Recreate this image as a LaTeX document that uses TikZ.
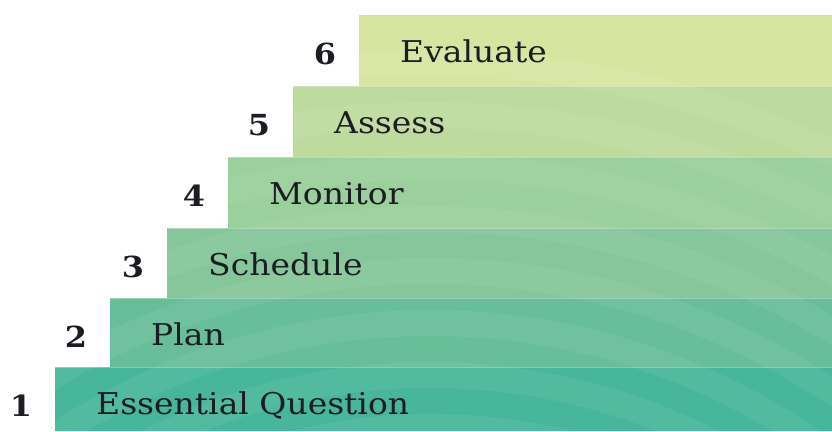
\documentclass[tikz,border=0pt]{standalone}
\usepackage{fontspec}
\setmainfont{DejaVu Serif}
\newfontfamily\lblfont[FakeStretch=1.1]{DejaVu Serif}
\newfontfamily\numfont[FakeStretch=1.1]{DejaVu Serif}
\definecolor{b6}{HTML}{D7E5A0}
\definecolor{b5}{HTML}{BEDB9F}
\definecolor{b4}{HTML}{9BCF9B}
\definecolor{b3}{HTML}{86C69A}
\definecolor{b2}{HTML}{68BE98}
\definecolor{b1}{HTML}{47B69A}
\definecolor{txt}{HTML}{1C1C24}
\begin{document}
\begin{tikzpicture}[x=1pt,y=-1pt,
  lbl/.style={anchor=base west, font=\lblfont\fontsize{30}{32}\selectfont, text=txt, inner sep=0pt},
  num/.style={anchor=base, font=\numfont\bfseries\fontsize{29}{32}\selectfont, text=txt, inner sep=0pt}]
\useasboundingbox (0,0) rectangle (832,431);
\foreach \l/\t/\b/\c in {359/15/86/b6, 293/86/157/b5, 228/157/228/b4, 167/228/298/b3, 110/298/367/b2, 55/367/431/b1}
  \fill[\c] (\l,\t) rectangle (832,\b);
\begin{scope}
  \clip (359,15) -- (832,15) -- (832,431) -- (55,431) -- (55,367) -- (110,367) -- (110,298)
    -- (167,298) -- (167,228) -- (228,228) -- (228,157) -- (293,157) -- (293,86) -- (359,86) -- cycle;
  \foreach \r [evaluate=\r as \s using \r+26] in {560,612,...,960}
    \fill[white,opacity=.06,even odd rule] (430,1000) circle[radius=\r pt] (430,1000) circle[radius=\s pt];
  \foreach \yy in {86,157,228,298,367}
    \draw[white,opacity=.3,line width=1pt] (0,\yy) -- (832,\yy);
\end{scope}
\foreach \l/\t/\n/\k in {359/15/Evaluate/6, 293/86/Assess/5, 228/157/Monitor/4, 167/228/Schedule/3, 110/298/Plan/2, 55/367/Essential Question/1}{
  \node[lbl] (t\k) at (\l+41,\t+47) {\n};
  \node[num] (n\k) at (\l-34,\t+49) {\k};
}
\end{tikzpicture}
\end{document}
